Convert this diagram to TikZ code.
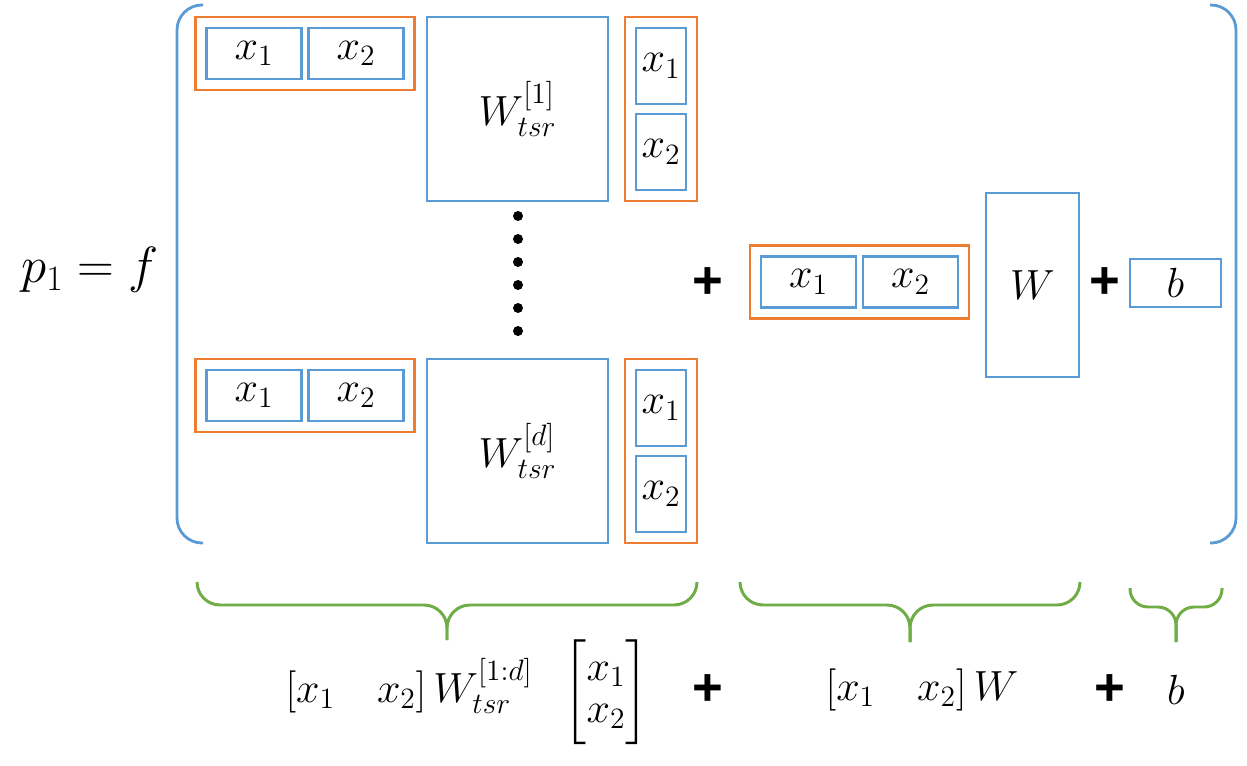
\RequirePackage{fix-cm}
\documentclass[tikz,border=0pt]{standalone}
\usepackage{amsmath}
\usepackage{fontspec}
\newfontfamily\plusfont{Liberation Sans}
\usepackage{tikz}
\usetikzlibrary{positioning,fit}
\definecolor{matBlue}{HTML}{5B9BD5}
\definecolor{vecOrange}{HTML}{ED7D31}
\definecolor{braceGreen}{HTML}{70AD47}

\begin{document}
\begin{tikzpicture}[x=0.02cm,y=-0.02cm,
        every node/.style={font=\fontsize{24}{26}\selectfont},
        cell/.style={draw=matBlue,line width=1.6pt,minimum width=1.9cm,minimum height=1.02cm,
        inner sep=0pt,outer sep=0pt},
        vcell/.style={cell,minimum width=1.0cm,minimum height=1.52cm},
        group/.style={draw=vecOrange,line width=1.2pt,inner sep=0.22cm},
        mat/.style={draw=matBlue,line width=1.6pt,minimum width=3.62cm,minimum height=3.68cm,inner sep=0pt},
        bracket/.style={draw=matBlue,line width=1.6pt,rounded corners=0.5cm},
        ubrace/.style={draw=braceGreen,line width=1.7pt,rounded corners=0.46cm},
        plus/.style={font=\fontsize{30}{32}\selectfont\plusfont\bfseries}]
        \useasboundingbox (0,0) rectangle (1247,766);
        % left hand side and the big bracket
        \node[font=\fontsize{29}{31}\selectfont] (lhs) at (90,270) {$p_1 = f$};
        \draw[bracket] (203,5) -- (177,5) -- (177,543) -- (203,543);
        \draw[bracket] (1210,5) -- (1236,5) -- (1236,543) -- (1210,543);
        % bilinear term, first slice
        \node[cell] (ra1) at (254,53.5) {$x_1$};
        \node[cell,right=0.14cm of ra1] (ra2) {$x_2$};
        \node[group,fit=(ra1)(ra2)] (ra) {};
        \node[mat] (wa) at (517.5,109) {$W_{tsr}^{[1]}$};
        \node[vcell] (ca1) at (661,66) {$x_1$};
        \node[vcell,below=0.2cm of ca1] (ca2) {$x_2$};
        \node[group,fit=(ca1)(ca2)] (ca) {};
        \foreach \k in {0,...,5} \fill (518,216+23*\k) circle[radius=0.1cm];
        % last slice
        \node[cell] (rd1) at (254,395.5) {$x_1$};
        \node[cell,right=0.14cm of rd1] (rd2) {$x_2$};
        \node[group,fit=(rd1)(rd2)] (rd) {};
        \node[mat] (wd) at (517.5,451) {$W_{tsr}^{[d]}$};
        \node[vcell] (cd1) at (661,408) {$x_1$};
        \node[vcell,below=0.2cm of cd1] (cd2) {$x_2$};
        \node[group,fit=(cd1)(cd2)] (cd) {};
        % linear term and bias
        \node[plus] (plusa) at (708,283) {+};
        \node[cell] (rb1) at (808.5,282) {$x_1$};
        \node[cell,right=0.14cm of rb1] (rb2) {$x_2$};
        \node[group,fit=(rb1)(rb2)] (rb) {};
        \node[mat,minimum width=1.86cm] (wl) at (1032.5,285) {$W$};
        \node[plus] (plusb) at (1105,283) {+};
        \node[cell,minimum width=1.82cm,minimum height=0.96cm] (bias) at (1175.5,283) {$b$};
        % underbraces
        \draw[ubrace] (197,582) -- (197,605) -- (447,605) -- (447,640);
        \draw[ubrace] (697,582) -- (697,605) -- (447,605) -- (447,640);
        \draw[ubrace] (740,582) -- (740,605) -- (910,605) -- (910,642);
        \draw[ubrace] (1080,582) -- (1080,605) -- (910,605) -- (910,642);
        \draw[ubrace,rounded corners=0.36cm] (1130,588) -- (1130,607) -- (1176,607) -- (1176,642);
        \draw[ubrace,rounded corners=0.36cm] (1222,588) -- (1222,607) -- (1176,607) -- (1176,642);
        % written form
        \node (bilin) at (467,692) {$\left[x_1\quad x_2\right] W_{tsr}^{[1:d]}\;\hspace{7pt}\left[\begin{matrix}x_1\\[-2pt] x_2\end{matrix}\right]$};
        \node[plus] (plusc) at (708,690) {+};
        \node (lin) at (922,690) {$\left[x_1\quad x_2\right] W$};
        \node[plus] (plusd) at (1110,690) {+};
        \node (bterm) at (1176,690) {$b$};
\end{tikzpicture}
\end{document}
